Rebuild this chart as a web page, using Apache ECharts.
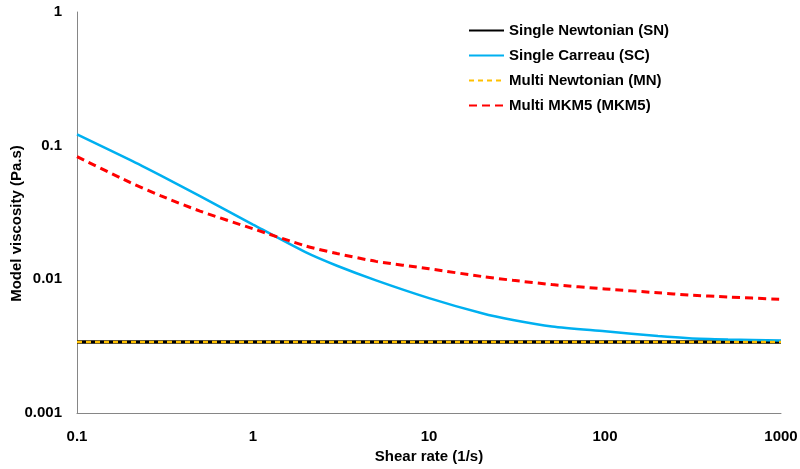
<!DOCTYPE html>
<html>
<head>
<meta charset="utf-8">
<script src="https://cdn.jsdelivr.net/npm/echarts@6/dist/echarts.min.js"></script>
<style>html,body{margin:0;padding:0;background:#fff}#c{width:800px;height:469px}</style>
</head>
<body>
<div id="c"></div>
<script>
const shearRate = [0.1, 0.2, 0.3, 0.5, 1, 2, 3, 5, 10, 20, 30, 50, 100, 200, 300, 500, 1000];
const singleNewtonian = [0.0034, 0.0034, 0.0034, 0.0034, 0.0034, 0.0034, 0.0034, 0.0034, 0.0034, 0.0034, 0.0034, 0.0034, 0.0034, 0.0034, 0.0034, 0.0034, 0.0034];
const singleCarreau = [0.1217, 0.0782, 0.0596, 0.0420, 0.0257, 0.0159, 0.01264, 0.00983, 0.00724, 0.00557, 0.00496, 0.00444, 0.00409, 0.00377, 0.00363, 0.00355, 0.00348];
const multiNewtonian = [0.0034, 0.0034, 0.0034, 0.0034, 0.0034, 0.0034, 0.0034, 0.0034, 0.0034, 0.0034, 0.0034, 0.0034, 0.0034, 0.0034, 0.0034, 0.0034, 0.0034];
const multiMKM5 = [0.0827, 0.0531, 0.0421, 0.0324, 0.0239, 0.01775, 0.0156, 0.01363, 0.0120, 0.0105, 0.00983, 0.00914, 0.00848, 0.00793, 0.00764, 0.00737, 0.00709];
const xTicks = [0.1, 1, 10, 100, 1000];
const yTicks = [0.001, 0.01, 0.1, 1];
const seriesNames = ['Single Newtonian (SN)', 'Single Carreau (SC)', 'Multi Newtonian (MN)', 'Multi MKM5 (MKM5)'];
const xTitle = 'Shear rate (1/s)';
const yTitle = 'Model viscosity (Pa.s)';

const pairs = arr => shearRate.map((x, i) => [x, arr[i]]);
const fmt = v => {
  const s = [...xTicks, ...yTicks].find(t => Math.abs(t - v) / t < 1e-6);
  return s !== undefined ? String(s) : '';
};
const font = 'Liberation Sans, Arial, sans-serif';
const chart = echarts.init(document.getElementById('c'), null, {renderer: 'canvas'});
chart.setOption({
  animation: false,
  backgroundColor: '#fff',
  grid: {left: 77, right: 19, top: 12, bottom: 56, containLabel: false, outerBoundsMode: 'none'},
  legend: {
    orient: 'vertical', left: 468, top: 23, padding: 0,
    itemWidth: 35, itemHeight: 10, itemGap: 10,
    itemStyle: {opacity: 0},
    textStyle: {fontFamily: font, fontWeight: 'bold', fontSize: 15, color: '#000'},
    data: seriesNames
  },
  xAxis: {
    type: 'log', logBase: 10, min: 0.1, max: 1000,
    name: xTitle, nameLocation: 'middle', nameGap: 36, nameMoveOverlap: false,
    nameTextStyle: {fontFamily: font, fontWeight: 'bold', fontSize: 15, color: '#000'},
    axisLine: {show: true, lineStyle: {color: '#868686', width: 1}},
    axisTick: {show: false},
    splitLine: {show: false},
    minorTick: {show: false},
    axisLabel: {fontFamily: font, fontWeight: 'bold', fontSize: 15, color: '#000', margin: 16, formatter: fmt, showMinLabel: true, showMaxLabel: true}
  },
  yAxis: {
    type: 'log', logBase: 10, min: 0.001, max: 1,
    name: '{t|' + yTitle + '}{p|}', nameLocation: 'middle', nameGap: 53, nameRotate: 90, nameMoveOverlap: false,
    nameTextStyle: {fontFamily: font, fontWeight: 'bold', fontSize: 15, color: '#000',
      rich: {t: {fontFamily: font, fontWeight: 'bold', fontSize: 15, color: '#000'}, p: {width: 22}}},
    axisLine: {show: true, lineStyle: {color: '#868686', width: 1}},
    axisTick: {show: false},
    splitLine: {show: false},
    axisLabel: {fontFamily: font, fontWeight: 'bold', fontSize: 15, color: '#000', margin: 15, formatter: fmt, showMinLabel: true, showMaxLabel: true}
  },
  series: [
    {name: seriesNames[0], type: 'line', data: pairs(singleNewtonian), symbol: 'none',
     lineStyle: {color: '#000000', width: 3.5}, itemStyle: {color: '#000000'}, z: 2},
    {name: seriesNames[1], type: 'line', data: pairs(singleCarreau), symbol: 'none', smooth: 0.25,
     lineStyle: {color: '#00B0F0', width: 2.5}, itemStyle: {color: '#00B0F0'}, z: 3},
    {name: seriesNames[2], type: 'line', data: pairs(multiNewtonian), symbol: 'none',
     lineStyle: {color: '#FFC000', width: 2.5, type: [5, 4]}, itemStyle: {color: '#FFC000'}, z: 4},
    {name: seriesNames[3], type: 'line', data: pairs(multiMKM5), symbol: 'none', smooth: 0.25,
     lineStyle: {color: '#FF0000', width: 3, type: [8, 5]}, itemStyle: {color: '#FF0000'}, z: 5}
  ]
});
</script>
</body>
</html>
